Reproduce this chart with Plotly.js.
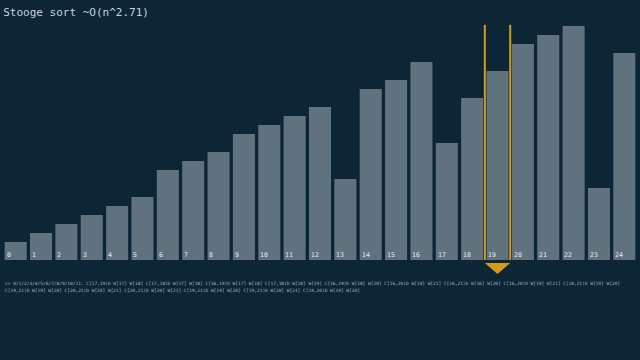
<!DOCTYPE html>
<html>
<head>
<meta charset="utf-8">
<script src="https://cdn.plot.ly/plotly-3.0.1.min.js"></script>
<style>html,body{margin:0;padding:0;background:#0c2636;}#chart{width:640px;height:360px;}</style>
</head>
<body>
<div id="chart"></div>
<script>
const indices = [0,1,2,3,4,5,6,7,8,9,10,11,12,13,14,15,16,17,18,19,20,21,22,23,24];
const values = [2,3,4,5,6,7,10,11,12,14,15,16,17,9,19,20,22,13,18,21,24,25,26,8,23];
const barLabels = indices.map(String);
const highlightIndex = 19;
const titleText = "Stooge sort ~O(n^2.71)";
const logLine1 = ">> 0/1/2/3/4/5/6/7/8/9/10/11: C[17,19)D W[17] W[18] C[17,18)D W[17] W[18] C[16,19)D W[17] W[18] C[17,18)D W[18] W[19] C[16,19)D W[18] W[20] C[16,20)D W[14] W[21] C[16,21)D W[16] W[20] C[16,20)D W[19] W[21] C[18,21)D W[19] W[20]";
const logLine2 = "C[19,21)D W[19] W[20] C[20,21)D W[20] W[21] C[20,21)D W[20] W[21] C[19,21)D W[19] W[20] C[19,21)D W[20] W[21] C[19,20)D W[19] W[20]";

const BG = "#0c2636";
const BAR = "#5f727e";
const ORANGE = "#d39b1c";
const mono = "DejaVu Sans Mono, monospace";

const trace = {
  type: "bar",
  x: indices,
  y: values,
  marker: {color: BAR, line: {width: 0}},
  hoverinfo: "none"
};

const annotations = indices.map((i, k) => ({
  x: i - 0.44, y: 0, xref: "x", yref: "y",
  xanchor: "left", yanchor: "bottom", yshift: -1,
  text: barLabels[k], showarrow: false,
  font: {family: mono, size: 6.5, color: "#e6ecf0"}
}));
annotations.push({
  xref: "paper", yref: "paper", x: 0, y: 0, xanchor: "left", yanchor: "top",
  yshift: -19, text: logLine1, showarrow: false, align: "left",
  font: {family: mono, size: 4.5, color: "#a9bccb"}
});
annotations.push({
  xref: "paper", yref: "paper", x: 0, y: 0, xanchor: "left", yanchor: "top",
  yshift: -26, text: logLine2, showarrow: false, align: "left",
  font: {family: mono, size: 4.5, color: "#a9bccb"}
});

const h = highlightIndex;
const shapes = [
  {type: "line", xref: "x", yref: "paper", x0: h - 0.5, x1: h - 0.5, y0: 0, y1: 1.005,
   line: {color: ORANGE, width: 2}},
  {type: "line", xref: "x", yref: "paper", x0: h + 0.5, x1: h + 0.5, y0: 0, y1: 1.005,
   line: {color: ORANGE, width: 2}},
  {type: "path", xref: "x", yref: "paper",
   path: `M ${h - 0.5} -0.013 L ${h + 0.5} -0.013 L ${h} -0.06 Z`,
   fillcolor: ORANGE, line: {width: 0}}
];

const layout = {
  width: 640, height: 360,
  paper_bgcolor: BG, plot_bgcolor: BG,
  margin: {l: 3, r: 3, t: 26, b: 100, pad: 0},
  bargap: 0.13,
  showlegend: false,
  title: {text: titleText, x: 0.005, xref: "container", xanchor: "left",
          y: 0.967, yref: "container", yanchor: "middle",
          font: {family: mono, size: 11, color: "#c9d3db"}},
  xaxis: {range: [-0.5, 24.5], showgrid: false, zeroline: false, showticklabels: false, ticks: "", fixedrange: true},
  yaxis: {range: [0, 26], showgrid: false, zeroline: false, showticklabels: false, ticks: "", fixedrange: true},
  annotations: annotations,
  shapes: shapes
};

Plotly.newPlot("chart", [trace], layout, {displayModeBar: false, staticPlot: true});
</script>
</body>
</html>
